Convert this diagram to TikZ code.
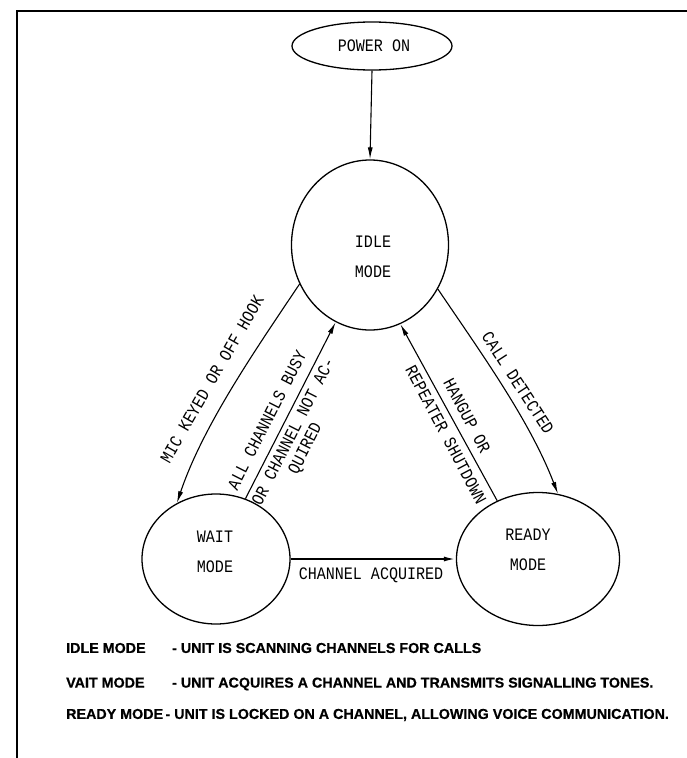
\documentclass[tikz,border=0pt]{standalone}
\usepackage{fontspec}
\setmainfont{Liberation Sans}
\newfontfamily\handfont{Liberation Mono}[FakeStretch=0.86]
\newfontfamily\legendfont{Liberation Sans}[FakeBold=0.6]
\usetikzlibrary{shapes.geometric,arrows.meta}
\begin{document}
\begin{tikzpicture}[x=1pt,y=-1pt,
  state/.style={draw, ellipse, line width=1.3pt, inner sep=0pt},
  hand/.style={font=\handfont\fontsize{17.5}{30}\selectfont, inner sep=0pt},
  conn/.style={line width=1.1pt, -{Latex[length=12pt,width=5pt]}},
  legend/.style={font=\legendfont\bfseries\fontsize{14.3}{17}\selectfont, anchor=west, inner sep=0pt}]
\useasboundingbox (0,0) rectangle (687,758);
\fill[white] (0,0) rectangle (687,758);
\draw[line width=2.5pt] (17,758) -- (17,11) -- (687,11);

% states
\node[state, minimum width=160pt, minimum height=48pt] (power) at (372,46) {};
\node[hand] (powertxt) at (374,46) {POWER ON};
\node[state, minimum width=157pt, minimum height=170pt] (idle) at (370,245) {};
\node[hand, align=center] (idletxt) at (373,257) {IDLE\\MODE};
\node[state, minimum width=148pt, minimum height=130pt] (wait) at (216,559) {};
\node[hand, align=center] (waittxt) at (215,552) {WAIT\\MODE};
\node[state, minimum width=163pt, minimum height=133pt] (ready) at (538,559) {};
\node[hand, align=center] (readytxt) at (528,550) {READY\\MODE};

% connectors
\draw[conn] (power.south) -- (idle.north);
\draw[conn] (idle.209) .. controls +(-45,67) and +(26,-77) .. (wait.125);
\draw[conn] (wait.64) -- (idle.246);
\draw[conn] (ready.125) -- (idle.291);
\draw[conn] (idle.327) .. controls +(44,65) and +(-28,-73) .. (ready.73);
\draw[conn, line width=1.8pt] (wait.east) -- (ready.west);

% connector labels
\node[hand, rotate=60] (lmic) at (212,379) {MIC KEYED OR OFF HOOK};
\node[hand, rotate=63] (lall1) at (267,420) {ALL CHANNELS BUSY};
\node[hand, rotate=63] (lall2) at (293,431) {OR CHANNEL NOT AC-};
\node[hand, rotate=63] (lall3) at (306,449) {QUIRED};
\node[hand, rotate=-62] (lhang1) at (467,416) {HANGUP OR};
\node[hand, rotate=-62] (lhang2) at (446,435) {REPEATER SHUTDOWN};
\node[hand, rotate=-57] (lcall) at (518,383) {CALL DETECTED};
\node[hand] (lacq) at (371,575) {CHANNEL ACQUIRED};

% legend
\node[legend] (leg1) at (66,648) {\makebox[106pt][l]{IDLE MODE}- UNIT IS SCANNING CHANNELS FOR CALLS};
\node[legend] (leg2) at (66,684) {\makebox[106pt][l]{VAIT MODE}- UNIT ACQUIRES A CHANNEL AND TRANSMITS SIGNALLING TONES.};
\node[legend] (leg3) at (66,715) {READY MODE\,- UNIT IS LOCKED ON A CHANNEL, ALLOWING VOICE COMMUNICATION.};
\end{tikzpicture}
\end{document}
